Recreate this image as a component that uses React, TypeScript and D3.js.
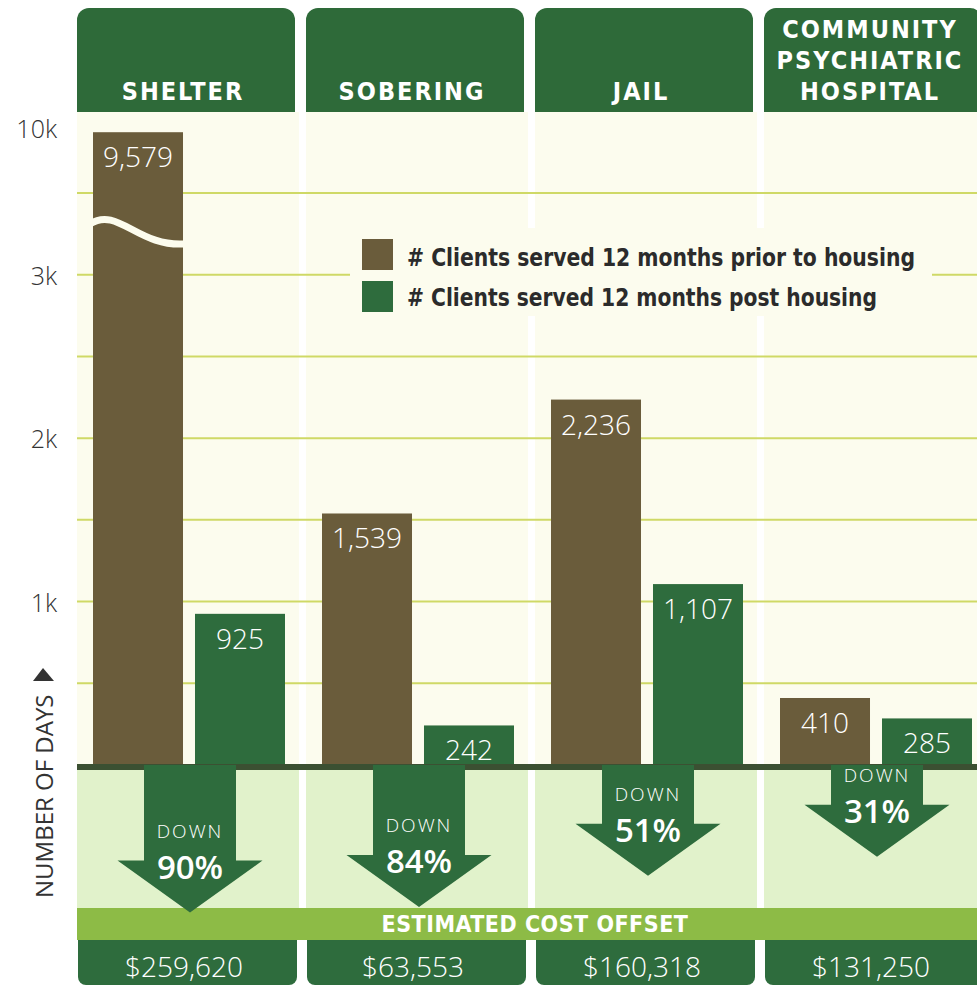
import React from "react";
import * as d3 from "d3";

// ---------- data ----------
const categories = ["Shelter", "Sobering", "Jail", "Community Psychiatric Hospital"];
const headerLines = [["SHELTER"], ["SOBERING"], ["JAIL"], ["COMMUNITY", "PSYCHIATRIC", "HOSPITAL"]];
const seriesKeys = ["prior", "post"];
const seriesLabels = [
  "# Clients served 12 months prior to housing",
  "# Clients served 12 months post housing",
];
const priorDays = [9579, 1539, 2236, 410];
const postDays = [925, 242, 1107, 285];
const percentDown = [90, 84, 51, 31];
const costOffsets = [259620, 63553, 160318, 131250];
const tickValues = [1000, 2000, 3000, 10000];
const tickLabels = ["1k", "2k", "3k", "10k"];
const gridValues = [500, 1000, 1500, 2000, 2500, 3000, 3500];
const breakValue = 3250;
const axisTitle = "NUMBER OF DAYS";
const bandTitle = "ESTIMATED COST OFFSET";
const downWord = "DOWN";

// ---------- styles ----------
const W = 977;
const H = 987;
const C = {
  cream: "#fcfcee",
  grid: "#cfd966",
  brown: "#6a5c3b",
  green: "#2e6c3d",
  tab: "#2e6a39",
  panel: "#e1f2cb",
  lime: "#8dbb46",
  base: "#3b5032",
  text: "#2b2b2b",
  axis: "#333333",
  wave: "#fcfcee",
};
const condBold = "'DejaVu Sans Condensed', 'Liberation Sans Narrow', 'DejaVu Sans', sans-serif";
const humanist = "'Open Sans', 'Noto Sans', 'DejaVu Sans', sans-serif";

function topRounded(x: number, y: number, w: number, h: number, r: number) {
  const p = d3.path();
  p.moveTo(x, y + h);
  p.lineTo(x, y + r);
  p.arcTo(x, y, x + r, y, r);
  p.lineTo(x + w - r, y);
  p.arcTo(x + w, y, x + w, y + r, r);
  p.lineTo(x + w, y + h);
  p.closePath();
  return p.toString();
}
function bottomRounded(x: number, y: number, w: number, h: number, r: number) {
  const p = d3.path();
  p.moveTo(x, y);
  p.lineTo(x + w, y);
  p.lineTo(x + w, y + h - r);
  p.arcTo(x + w, y + h, x + w - r, y + h, r);
  p.lineTo(x + r, y + h);
  p.arcTo(x, y + h, x, y + h - r, r);
  p.closePath();
  return p.toString();
}

export default function App() {
  const x = d3.scaleBand<string>().domain(categories).range([77, 993]).paddingInner(0).paddingOuter(0);
  const xs = d3.scaleBand<string>().domain(seriesKeys).range([16, 208]).paddingInner(0.1176);
  const y = d3.scaleLinear().domain([0, 3500, 10000]).range([765, 193, 128]);
  const tipY = d3.scaleLinear().domain([0, 100]).range([827.5, 922]);
  const fmt = d3.format(",");
  const fmtCost = d3.format("$,");
  const y0 = y(0);
  const colW = 222;
  const plotTop = 112;
  const panelBottom = 908;
  const bandBottom = 940;

  const line = d3.line<[number, number]>();

  return (
    <svg
      width={W}
      height={H}
      style={{ position: "absolute", left: 0, top: 0, display: "block", background: "#fff" }}
    >
      <rect x={0} y={0} width={W} height={H} fill="#ffffff" />

      {/* cream plot columns and light green lower panels */}
      {categories.map((c) => (
        <g key={"col" + c}>
          <rect x={x(c)!} y={plotTop} width={colW} height={y0 - plotTop} fill={C.cream} />
          <rect x={x(c)!} y={y0 + 5} width={colW} height={panelBottom - y0 - 5} fill={C.panel} />
        </g>
      ))}

      {/* gridlines */}
      {gridValues.map((v) => (
        <line key={"g" + v} x1={77} x2={W} y1={y(v)} y2={y(v)} stroke={C.grid} strokeWidth={2} />
      ))}

      {/* legend */}
      <rect x={350} y={228} width={582} height={88} fill={C.cream} />
      {seriesLabels.map((s, i) => (
        <g key={"leg" + i}>
          <rect x={362} y={239 + i * 42} width={31} height={31} fill={i === 0 ? C.brown : C.green} />
          <text
            x={407}
            y={266 + i * 40}
            fontFamily={condBold}
            fontWeight="bold"
            fontSize={25}
            fill={C.text}
            textLength={i === 0 ? 508 : 470}
            lengthAdjust="spacingAndGlyphs"
          >
            {s}
          </text>
        </g>
      ))}

      {/* bars */}
      {categories.map((c, i) => {
        const vals = [priorDays[i], postDays[i]];
        return (
          <g key={"bars" + c}>
            {seriesKeys.map((k, j) => {
              const bx = x(c)! + xs(k)!;
              const top = y(vals[j]);
              return (
                <rect
                  key={k}
                  x={bx}
                  y={top}
                  width={xs.bandwidth()}
                  height={y0 - top}
                  fill={j === 0 ? C.brown : C.green}
                />
              );
            })}
          </g>
        );
      })}

      {/* axis break on the tall bar */}
      {(() => {
        const c = categories[0];
        const x0 = x(c)! + xs("prior")!;
        const x1 = x0 + xs.bandwidth();
        const cy = y(breakValue);
        const p = d3.path();
        p.moveTo(x0 - 3, cy - 10);
        p.bezierCurveTo(x0 + 25, cy - 28, x0 + 45, cy + 14, x1 + 3, cy + 10);
        return <path d={p.toString()} fill="none" stroke={C.wave} strokeWidth={7} />;
      })()}

      {/* bar value labels */}
      {categories.map((c, i) => {
        const vals = [priorDays[i], postDays[i]];
        return seriesKeys.map((k, j) => {
          const bx = x(c)! + xs(k)! + xs.bandwidth() / 2;
          const top = y(vals[j]);
          return (
            <text
              key={"lab" + c + k}
              x={bx}
              y={top + 35}
              textAnchor="middle"
              fontFamily={humanist}
              fontWeight={300}
              fontSize={28}
              fill="#ffffff"
            >
              {fmt(vals[j])}
            </text>
          );
        });
      })}

      {/* baseline */}
      <rect x={77} y={y0 - 1} width={W - 77} height={6} fill={C.base} />

      {/* estimated cost band */}
      <rect x={77} y={panelBottom} width={W - 77} height={bandBottom - panelBottom} fill={C.lime} />
      <text
        x={535}
        y={932}
        textAnchor="middle"
        fontFamily={condBold}
        fontWeight="bold"
        fontSize={23}
        letterSpacing={0.5}
        fill="#ffffff"
      >
        {bandTitle}
      </text>

      {/* arrows */}
      {categories.map((c, i) => {
        const cx = x(c)! + 113;
        const tip = tipY(percentDown[i]);
        const sw = 46;
        const hw = 72.5;
        const hh = 52;
        const pts: [number, number][] = [
          [cx - sw, y0],
          [cx + sw, y0],
          [cx + sw, tip - hh],
          [cx + hw, tip - hh],
          [cx, tip],
          [cx - hw, tip - hh],
          [cx - sw, tip - hh],
        ];
        return (
          <g key={"arrow" + c}>
            <path d={line(pts)! + "Z"} fill={C.green} />
            <text
              x={cx}
              y={tip - 75}
              textAnchor="middle"
              fontFamily={humanist}
              fontWeight={300}
              fontSize={19}
              letterSpacing={2}
              fill="#ffffff"
            >
              {downWord}
            </text>
            <text
              x={cx}
              y={tip - 34}
              textAnchor="middle"
              fontFamily={humanist}
              fontWeight={600}
              fontSize={33}
              fill="#ffffff"
            >
              {percentDown[i] + "%"}
            </text>
          </g>
        );
      })}

      {/* cost boxes */}
      {categories.map((c, i) => (
        <g key={"cost" + c}>
          <path d={bottomRounded(x(c)! + 1, bandBottom, 219, H - bandBottom - 2, 8)} fill={C.green} />
          <text
            x={x(c)! + 107}
            y={977}
            textAnchor="middle"
            fontFamily={humanist}
            fontWeight={300}
            fontSize={28}
            fill="#ffffff"
          >
            {fmtCost(costOffsets[i])}
          </text>
        </g>
      ))}

      {/* header tabs */}
      {categories.map((c, i) => {
        const lines = headerLines[i];
        return (
          <g key={"tab" + c}>
            <path d={topRounded(x(c)!, 8, 218, plotTop - 8, 12)} fill={C.tab} />
            {lines.map((l, k) => (
              <text
                key={l}
                x={x(c)! + 106}
                y={100 - (lines.length - 1 - k) * 31}
                textAnchor="middle"
                fontFamily={condBold}
                fontWeight="bold"
                fontSize={25}
                letterSpacing={2}
                fill="#ffffff"
              >
                {l}
              </text>
            ))}
          </g>
        );
      })}

      {/* y tick labels */}
      {tickValues.map((v, i) => (
        <text
          key={"t" + v}
          x={57}
          y={y(v)}
          textAnchor="end"
          dominantBaseline="central"
          fontFamily={humanist}
          fontWeight={300}
          fontSize={25}
          fill={C.axis}
        >
          {tickLabels[i]}
        </text>
      ))}

      {/* axis title */}
      <text
        transform="translate(53,898) rotate(-90)"
        fontFamily={humanist}
        fontSize={24}
        fontWeight={500}
        fill={C.axis}
      >
        {axisTitle}
      </text>
      <path d={line([[33, 681], [43, 668], [54, 681]])! + "Z"} fill={C.axis} />
    </svg>
  );
}
